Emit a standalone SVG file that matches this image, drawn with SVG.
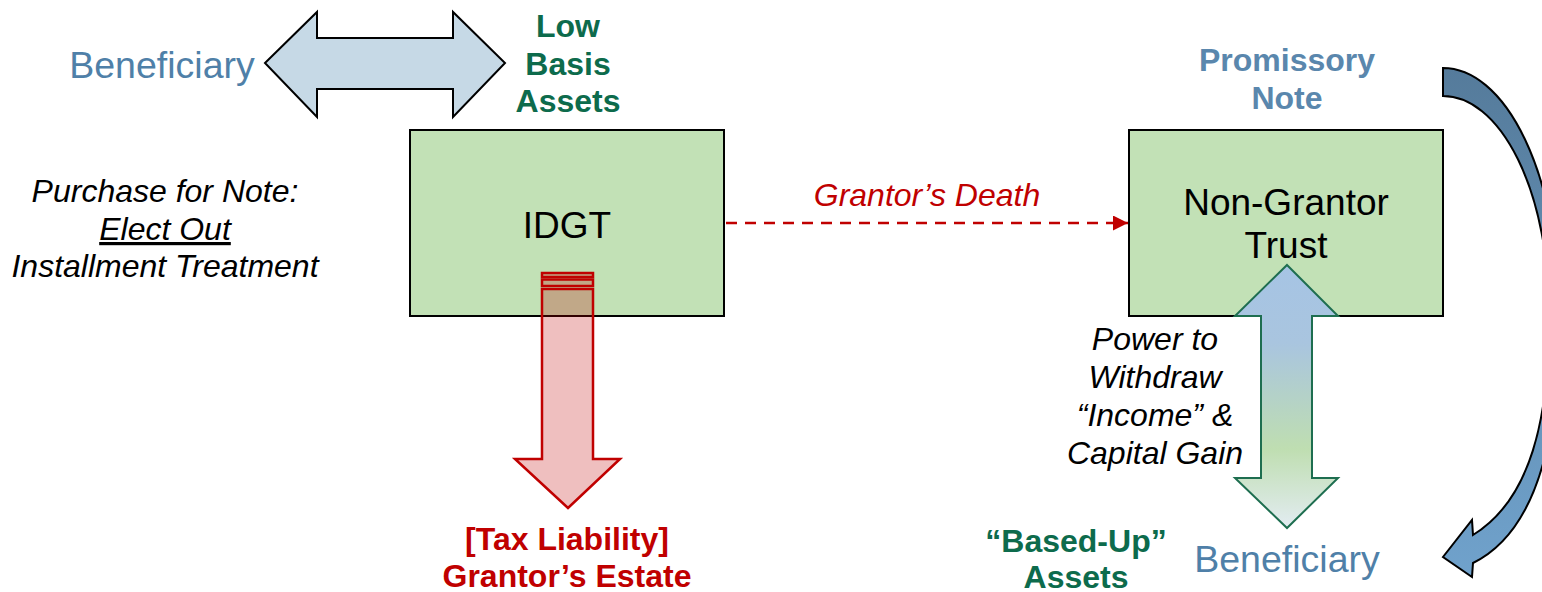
<svg xmlns="http://www.w3.org/2000/svg" width="1542" height="592" viewBox="0 0 1542 592">
<style>
text{font-family:"Liberation Sans",Arial,sans-serif;}
.box{fill:#c2e1b6;stroke:#000;stroke-width:2;}
.lbl{font-size:37px;fill:#000;text-anchor:middle;}
.ital{font-size:32px;font-style:italic;fill:#000;text-anchor:middle;}
.bgreen{font-size:32px;font-weight:bold;fill:#0d6b4c;text-anchor:middle;}
.bblue{font-size:32px;font-weight:bold;fill:#5a87ad;text-anchor:middle;}
.bred{font-size:32px;font-weight:bold;fill:#c00000;text-anchor:middle;}
.benef{font-size:37.5px;fill:#4f80a8;text-anchor:middle;}
.redarrow{fill:#c00000;fill-opacity:0.25;stroke:#c00000;stroke-width:2.5;}
</style>
<defs>
<linearGradient id="gUp" x1="0" y1="265" x2="0" y2="528" gradientUnits="userSpaceOnUse">
<stop offset="0" stop-color="#a6c4e4"/>
<stop offset="0.3" stop-color="#a9c5df"/>
<stop offset="0.7" stop-color="#bfdeb1"/>
<stop offset="1" stop-color="#e3ecf2"/>
</linearGradient>
<linearGradient id="gCurve" x1="0" y1="68" x2="0" y2="577" gradientUnits="userSpaceOnUse">
<stop offset="0" stop-color="#557b9b"/>
<stop offset="1" stop-color="#70a2cc"/>
</linearGradient>
<marker id="redHead" viewBox="0 0 15 15" refX="15" refY="7.5" markerWidth="15" markerHeight="15" markerUnits="userSpaceOnUse" orient="auto">
<path d="M0,0 L15,7.5 L0,15 Z" fill="#c00000"/>
</marker>
</defs>

<g id="beneficiary-top">
<text class="benef" x="162" y="78">Beneficiary</text>
</g>
<g id="low-basis-assets">
<text class="bgreen" x="568" y="37">Low</text>
<text class="bgreen" x="568" y="75">Basis</text>
<text class="bgreen" x="568" y="112">Assets</text>
</g>
<g id="purchase-note">
<text class="ital" x="165" y="202">Purchase for Note:</text>
<text class="ital" x="165" y="240" text-decoration="underline">Elect Out</text>
<text class="ital" x="165" y="277">Installment Treatment</text>
</g>
<g id="idgt">
<rect class="box" x="410" y="130" width="314" height="186"/>
<text class="lbl" x="567" y="238">IDGT</text>
</g>
<g id="non-grantor-trust">
<rect class="box" x="1129" y="130" width="314" height="186"/>
<text class="lbl" x="1286" y="215">Non-Grantor</text>
<text class="lbl" x="1286" y="258">Trust</text>
</g>
<g id="promissory-note">
<text class="bblue" x="1287" y="71">Promissory</text>
<text class="bblue" x="1287" y="109">Note</text>
</g>
<g id="power-withdraw">
<text class="ital" x="1155" y="350">Power to</text>
<text class="ital" x="1155" y="388">Withdraw</text>
<text class="ital" x="1155" y="426">“Income” &amp;</text>
<text class="ital" x="1155" y="464">Capital Gain</text>
</g>
<g id="tax-liability">
<text class="bred" x="567" y="550">[Tax Liability]</text>
<text class="bred" x="567" y="587">Grantor’s Estate</text>
</g>
<g id="based-up-assets">
<text class="bgreen" x="1076" y="552">“Based-Up”</text>
<text class="bgreen" x="1076" y="588">Assets</text>
</g>
<g id="beneficiary-bottom">
<text class="benef" x="1287" y="572">Beneficiary</text>
</g>

<g id="connectors">
<path d="M265,63 L317,12 L317,38 L453,38 L453,12 L505,63 L453,117 L453,89 L317,89 L317,117 Z" fill="#c6d9e6" stroke="#000" stroke-width="2" stroke-linejoin="miter"/>
<g id="red-arrow">
<rect class="redarrow" x="542" y="273" width="51" height="4"/>
<rect class="redarrow" x="542" y="279.5" width="51" height="6.5"/>
<path class="redarrow" d="M542,289 L593,289 L593,459 L620,459 L568,508 L515,459 L542,459 Z"/>
</g>
<line x1="726" y1="223" x2="1128" y2="223" stroke="#c00000" stroke-width="2.5" stroke-dasharray="11,8" marker-end="url(#redHead)"/>
<text x="927" y="206" font-size="32" font-style="italic" fill="#c00000" text-anchor="middle">Grantor’s Death</text>
<path d="M1287,265 L1338,316 L1312,316 L1312,478 L1338,478 L1287,528 L1235,478 L1261,478 L1261,316 L1235,316 Z" fill="url(#gUp)" stroke="#1e6e50" stroke-width="2"/>
<path d="M1443,68 A116,244 0 0 1 1559,312 C1560,430 1540,530 1473,563 L1472,577 L1443,557 L1472,520 L1473,535 C1530,500 1550,420 1549,312 A106,216 0 0 0 1443,96 Z" fill="url(#gCurve)" stroke="#000" stroke-width="2"/>
</g>
</svg>
